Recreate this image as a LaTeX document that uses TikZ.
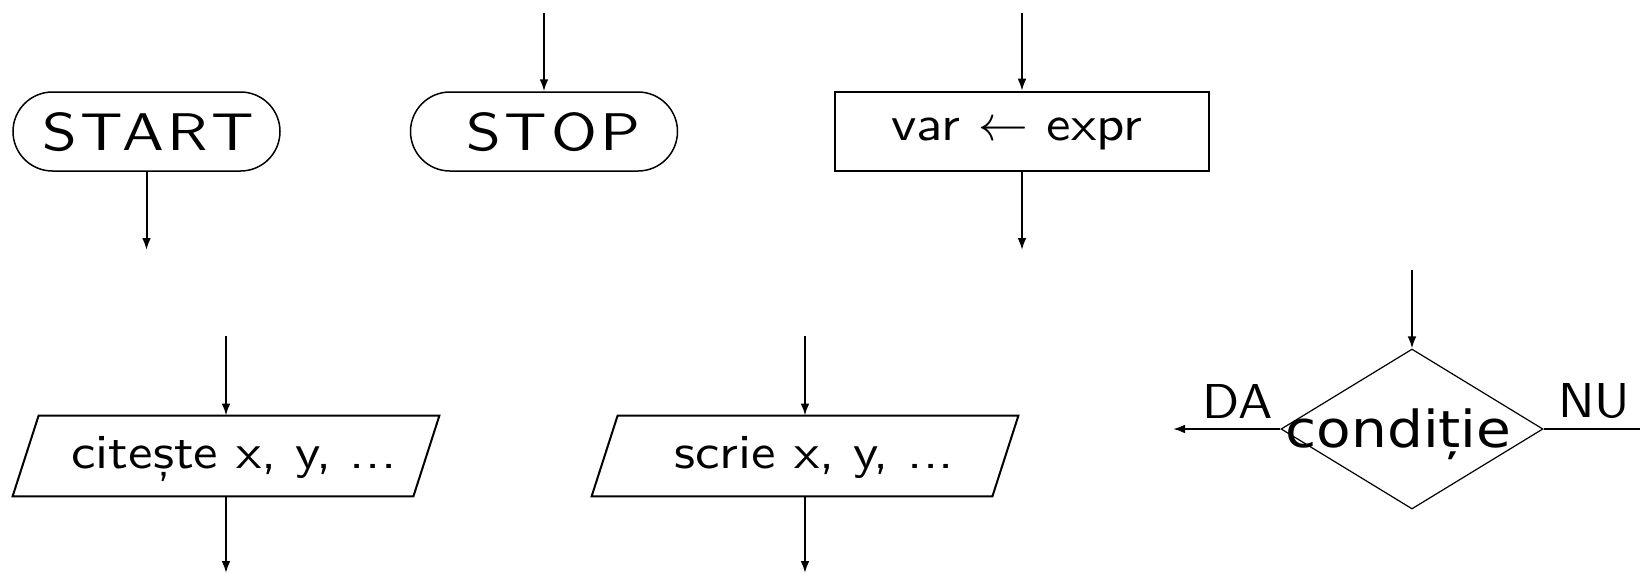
\documentclass[tikz,border=0pt]{standalone}
\usepackage{fontspec}
\setsansfont{lmsans10-regular.otf}
\newfontfamily\djv{DejaVu Sans}
\usetikzlibrary{arrows.meta,shapes.geometric}
\begin{document}
\begin{tikzpicture}[x=0.5pt,y=-0.5pt,
  termbox/.style={draw, rectangle, rounded corners=19.75pt, minimum width=133.5pt, minimum height=39.5pt, inner sep=0pt, line width=0.75pt},
  procbox/.style={draw, rectangle, minimum width=187pt, minimum height=39.5pt, inner sep=0pt, line width=1pt},
  iobox/.style={rectangle, minimum width=213pt, minimum height=40pt, inner sep=0pt},
  iodraw/.style={line width=1pt},
  decbox/.style={draw, diamond, minimum width=131pt, minimum height=80pt, inner sep=0pt, line width=0.6pt},
  flow/.style={-{Latex[length=6pt,width=4.4pt]}, line width=1pt},
  plain/.style={line width=1pt},
  lbl/.style={inner sep=0pt, anchor=base west},
  bigtxt/.style={font=\sffamily\fontsize{26.5}{30}\selectfont\addfontfeature{FakeStretch=1.18,LetterSpace=7}},
  midtxt/.style={font=\sffamily\fontsize{24.5}{28}\selectfont\addfontfeature{FakeStretch=1.12}},
  smalltxt/.style={font=\sffamily\fontsize{24.5}{28}\selectfont\addfontfeature{FakeStretch=1.05}},
  condtxt/.style={font=\djv\fontsize{25.5}{30}\selectfont\addfontfeature{FakeStretch=1.11}}
]
\useasboundingbox (0,0) rectangle (1640,574);
\newcommand{\mydots}{.\kern0.01em.\kern0.01em.}

% START
\node[termbox] (start) at (146.5,131.5) {};
\node[lbl, bigtxt] (starttxt) at (42,150) {START};
\coordinate (startout) at (146.5,250);
\draw[flow] (start.south) -- (startout);

% STOP
\node[termbox] (stop) at (544,131.5) {};
\node[lbl, bigtxt] (stoptxt) at (466,150) {STOP};
\coordinate (stopin) at (544,13);
\draw[flow] (stopin) -- (stop.north);

% assignment
\node[procbox] (asg) at (1022,131.2) {};
\node[lbl, midtxt] (asgtxt) at (891,140) {var $\leftarrow$ expr};
\coordinate (asgin) at (1022,13);
\coordinate (asgout) at (1022,250);
\draw[flow] (asgin) -- (asg.north);
\draw[flow] (asg.south) -- (asgout);

% read
\node[iobox] (cit) at (226,456) {};
\draw[iodraw] ([xshift=13pt]cit.north west) -- (cit.north east) -- ([xshift=-13pt]cit.south east) -- (cit.south west) -- cycle;
\node[lbl, midtxt] (cittxt) at (71,468) {citește x, y, \mydots};
\coordinate (citin) at (226,336);
\coordinate (citout) at (226,573);
\draw[flow] (citin) -- (cit.north);
\draw[flow] (cit.south) -- (citout);

% write
\node[iobox] (scr) at (805,456) {};
\draw[iodraw] ([xshift=13pt]scr.north west) -- (scr.north east) -- ([xshift=-13pt]scr.south east) -- (scr.south west) -- cycle;
\node[lbl, midtxt] (scrtxt) at (674,468) {scrie x, y, \mydots};
\coordinate (scrin) at (805,336);
\coordinate (scrout) at (805,573);
\draw[flow] (scrin) -- (scr.north);
\draw[flow] (scr.south) -- (scrout);

% decision
\node[decbox] (cond) at (1412,429) {};
\node[lbl, condtxt] (condt) at (1285,447) {condiție};
\node[lbl, smalltxt] (da) at (1202,418) {DA};
\node[lbl, smalltxt] (nu) at (1558,417) {NU};
\coordinate (condin) at (1412,270);
\coordinate (condyes) at (1173,429);
\coordinate (condno) at (1640,429);
\draw[flow] (condin) -- (cond.north);
\draw[flow] (cond.west) -- (condyes);
\draw[plain] (cond.east) -- (condno);
\end{tikzpicture}
\end{document}
